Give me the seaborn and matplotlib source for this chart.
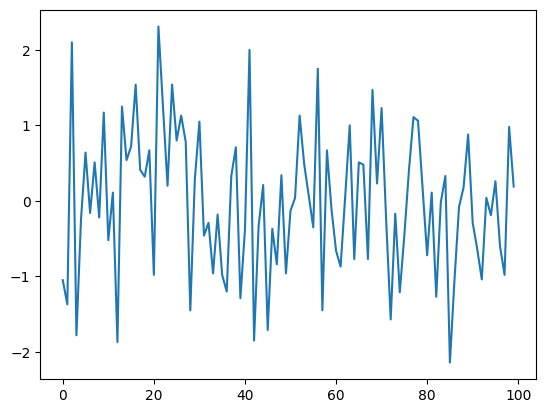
import matplotlib
matplotlib.use("Agg")
import matplotlib.pyplot as plt
import seaborn as sns
import numpy as np

x_index = list(range(100))
values = [
    -1.05, -1.37, 2.10, -1.78, -0.25, 0.64, -0.16, 0.51, -0.22, 1.17,
    -0.52, 0.11, -1.87, 1.25, 0.54, 0.72, 1.54, 0.41, 0.32, 0.67,
    -0.98, 2.31, 1.25, 0.20, 1.54, 0.80, 1.13, 0.78, -1.45, 0.29,
    1.05, -0.46, -0.29, -0.96, -0.18, -0.98, -1.20, 0.33, 0.71, -1.29,
    -0.38, 2.00, -1.85, -0.33, 0.21, -1.71, -0.37, -0.84, 0.34, -0.96,
    -0.13, 0.04, 1.13, 0.49, 0.07, -0.35, 1.75, -1.45, 0.67, -0.11,
    -0.66, -0.87, 0.05, 1.00, -0.77, 0.51, 0.48, -0.77, 1.47, 0.23,
    1.23, -0.25, -1.57, -0.17, -1.21, -0.45, 0.40, 1.11, 1.06, 0.17,
    -0.72, 0.11, -1.27, -0.02, 0.33, -2.14, -1.05, -0.08, 0.18, 0.88,
    -0.29, -0.64, -1.04, 0.04, -0.19, 0.26, -0.60, -0.98, 0.98, 0.19,
]

fig, ax = plt.subplots(figsize=(6.4, 4.8), dpi=100)
sns.lineplot(x=x_index, y=values, ax=ax, color="C0")
fig.savefig("out.png", dpi=100, bbox_inches="tight")
